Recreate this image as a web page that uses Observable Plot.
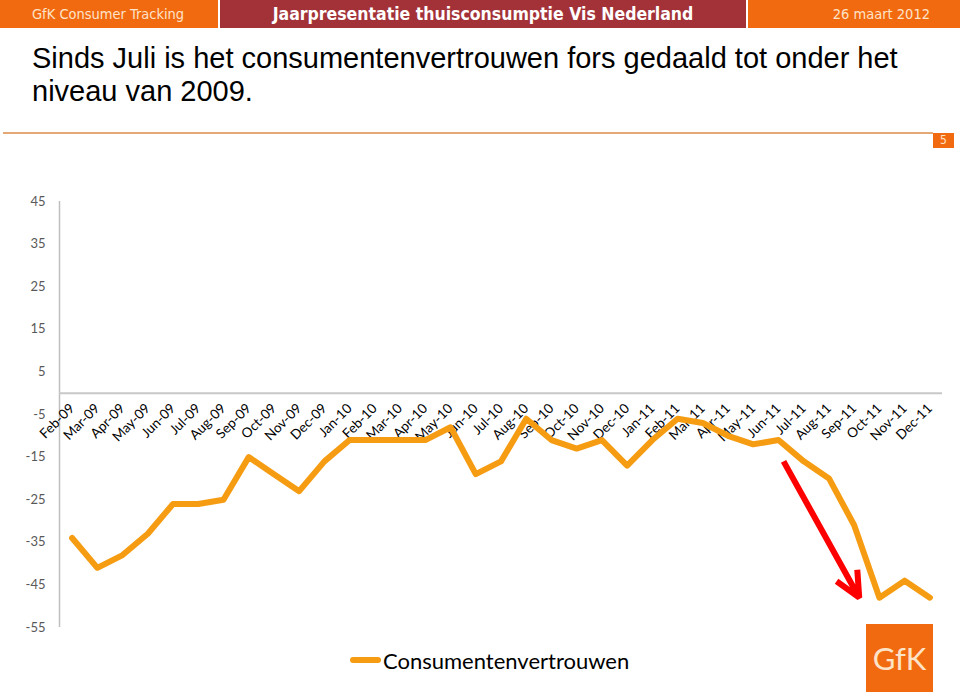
<!DOCTYPE html>
<html>
<head>
<meta charset="utf-8">
<script src="https://cdn.jsdelivr.net/npm/d3@7"></script>
<script src="https://cdn.jsdelivr.net/npm/@observablehq/plot@0.6"></script>
<style>
  html, body { margin: 0; padding: 0; background: #fff; }
  body { width: 960px; height: 696px; position: relative; overflow: hidden; font-family: "Liberation Sans", Arial, sans-serif; }
  .hbox { position: absolute; top: 0; height: 28px; line-height: 29px; }
  #h1 { left: 0; width: 218px; background: #f26a10; color: #fde3c8; font-family: "DejaVu Sans Condensed", "DejaVu Sans", sans-serif; font-stretch: condensed; font-size: 14.5px; padding-left: 32px; box-sizing: border-box; }
  #h2 { left: 220px; width: 526px; background: #a33238; color: #fff; font-family: "DejaVu Sans Condensed", "DejaVu Sans", sans-serif; font-stretch: condensed; font-weight: bold; font-size: 17.5px; text-align: center; }
  #h3 { left: 748px; width: 212px; background: #f26a10; color: #fde3c8; font-family: "DejaVu Sans Condensed", "DejaVu Sans", sans-serif; font-stretch: condensed; font-size: 14.5px; text-align: right; padding-right: 30px; box-sizing: border-box; }
  #title { position: absolute; left: 32px; top: 42px; font-size: 29px; line-height: 33px; color: #000; font-family: "Liberation Sans", Arial, sans-serif; }
  #rule { position: absolute; left: 3px; top: 132px; width: 930px; height: 2px; background: #e3a875; }
  #page { position: absolute; left: 933px; top: 133px; width: 21px; height: 15px; background: #f26a10; color: #fde3c8; font-size: 12px; line-height: 15px; text-align: center; font-family: "DejaVu Sans Condensed", "DejaVu Sans", sans-serif; }
  #chart { position: absolute; left: 0; top: 150px; }
  #legend { position: absolute; left: 350px; top: 647px; height: 26px; display: flex; align-items: center; font-family: Lato, "Open Sans", sans-serif; font-size: 22px; color: #000; }
  #legend .sw { width: 31px; height: 6px; background: #f59c12; border-radius: 3px; margin-right: 2px; }
  #logo { position: absolute; left: 866px; top: 624px; width: 67px; height: 68px; background: #f26a10; color: #fde3c8; font-family: Lato, "Open Sans", sans-serif; font-size: 31px; line-height: 68px; text-align: center; }
</style>
</head>
<body>
<div class="hbox" id="h1">GfK Consumer Tracking</div>
<div class="hbox" id="h2">Jaarpresentatie thuisconsumptie Vis Nederland</div>
<div class="hbox" id="h3">26 maart 2012</div>
<div id="title">Sinds Juli is het consumentenvertrouwen fors gedaald tot onder het<br>niveau van 2009.</div>
<div id="rule"></div>
<div id="page">5</div>
<div id="chart"></div>
<div id="legend"><span class="sw"></span><span id="legendText">Consumentenvertrouwen</span></div>
<div id="logo">GfK</div>
<script>
const months = ["Feb-09","Mar-09","Apr-09","May-09","Jun-09","Jul-09","Aug-09","Sep-09","Oct-09","Nov-09","Dec-09",
  "Jan-10","Feb-10","Mar-10","Apr-10","May-10","Jun-10","Jul-10","Aug-10","Sep-10","Oct-10","Nov-10","Dec-10",
  "Jan-11","Feb-11","Mar-11","Apr-11","May-11","Jun-11","Jul-11","Aug-11","Sep-11","Oct-11","Nov-11","Dec-11"];
const consumentenvertrouwen = [-34,-41,-38,-33,-26,-26,-25,-15,-19,-23,-16,
  -11,-11,-11,-11,-8,-19,-16,-6,-11,-13,-11,-17,
  -11,-6,-7,-10,-12,-11,-16,-20,-31,-48,-44,-48];
const yTicks = [45,35,25,15,5,-5,-15,-25,-35,-45,-55];
const seriesName = "Consumentenvertrouwen";
// annotation arrow (data units: month index, value)
const arrowStart = {i: 28.2, v: -16};
const arrowEnd = {i: 31.2, v: -48};

const data = months.map((m, i) => ({i, month: m, value: consumentenvertrouwen[i]}));

const chart = Plot.plot({
  width: 960,
  height: 546,
  marginTop: 51,
  marginBottom: 69,
  marginLeft: 59,
  marginRight: 18,
  style: {fontFamily: "Lato, 'Open Sans', sans-serif", background: "transparent"},
  x: {domain: [-0.5, months.length - 0.5], axis: null},
  y: {domain: [-55, 45]},
  marks: [
    Plot.ruleX([-0.5], {stroke: "#bfbfbf", strokeWidth: 1.5}),
    Plot.ruleY([0], {stroke: "#c8c8c8", strokeWidth: 2}),
    Plot.axisY({ticks: yTicks, tickSize: 0, tickPadding: 14, fontSize: 13, color: "#595959", tickFormat: d => String(d)}),
    Plot.text(data, {x: "i", y: () => 0, text: "month", rotate: -45, textAnchor: "end", dx: 0, dy: 13, fontSize: 13.5, fill: "#000"}),
    Plot.lineY(data, {x: "i", y: "value", stroke: "#f59c12", strokeWidth: 6}),
    Plot.arrow([{x1: arrowStart.i, y1: arrowStart.v, x2: arrowEnd.i, y2: arrowEnd.v}], {x1: "x1", y1: "y1", x2: "x2", y2: "y2", stroke: "#ff0000", strokeWidth: 6, headLength: 7, headAngle: 50, strokeLinecap: "butt"})
  ]
});
document.getElementById("chart").appendChild(chart);
document.getElementById("legendText").textContent = seriesName;
</script>
</body>
</html>
